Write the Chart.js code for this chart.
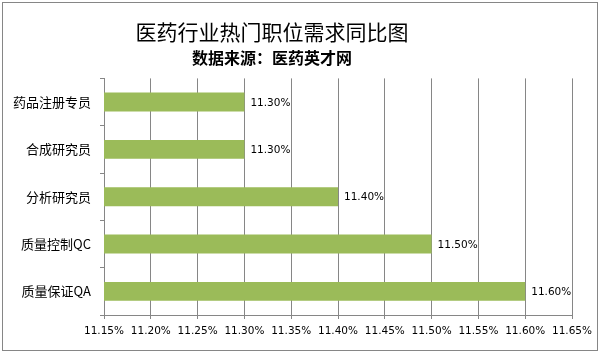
<!DOCTYPE html>
<html>
<head>
<meta charset="utf-8">
<script src="https://cdn.jsdelivr.net/npm/chart.js@4/dist/chart.umd.min.js"></script>
<style>
html,body{margin:0;padding:0;background:#fff;}
canvas{display:block;}
</style>
</head>
<body>
<canvas id="c" width="602" height="354"></canvas>
<script>
const categories = ['药品注册专员', '合成研究员', '分析研究员', '质量控制QC', '质量保证QA'];
const values = [11.30, 11.30, 11.40, 11.50, 11.60];
const xTickValues = [11.15, 11.20, 11.25, 11.30, 11.35, 11.40, 11.45, 11.50, 11.55, 11.60, 11.65];
const titleText = '医药行业热门职位需求同比图';
const subtitleText = '数据来源：医药英才网';

const GRAY = '#868686';
const CJK = '"Noto Sans CJK SC", "Noto Sans", sans-serif';
const NUMF = '"DejaVu Sans", Verdana, sans-serif';

const framePlugin = {
  id: 'frame',
  afterLayout(chart) {
    // centre the title and subtitle at x≈272 as in the reference
    chart.boxes.forEach(b => {
      if (b.position === 'top' && !b.axis) {
        b.left = 0;
        b.right = 544;
        b.width = 544;
      }
    });
  },
  beforeDraw(chart) {
    const ctx = chart.ctx;
    ctx.save();
    ctx.fillStyle = '#fff';
    ctx.fillRect(0, 0, chart.width, chart.height);
    ctx.strokeStyle = GRAY;
    ctx.lineWidth = 1;
    ctx.strokeRect(2.5, 2.5, 595, 348);
    ctx.restore();
  }
};

const labelPlugin = {
  id: 'barLabels',
  afterDatasetsDraw(chart) {
    const ctx = chart.ctx;
    const meta = chart.getDatasetMeta(0);
    ctx.save();
    ctx.font = '10.5px ' + NUMF;
    ctx.fillStyle = '#000';
    ctx.textAlign = 'left';
    ctx.textBaseline = 'middle';
    meta.data.forEach((bar, i) => {
      const v = chart.data.datasets[0].data[i];
      ctx.fillText(v.toFixed(2) + '%', bar.x + 6, bar.y + 1);
    });
    ctx.restore();
  }
};

new Chart(document.getElementById('c'), {
  type: 'bar',
  data: {
    labels: categories,
    datasets: [{
      data: values,
      backgroundColor: '#9BBB59',
      borderWidth: 0,
      categoryPercentage: 1.0,
      barPercentage: 0.4
    }]
  },
  options: {
    indexAxis: 'y',
    responsive: false,
    animation: false,
    devicePixelRatio: 1,
    layout: { padding: { left: 0, right: 30, top: 0, bottom: 0 } },
    plugins: {
      legend: { display: false },
      tooltip: { enabled: false },
      title: {
        display: true,
        text: titleText,
        color: '#000',
        font: { family: CJK, size: 21, weight: 'normal', lineHeight: 1.2 },
        padding: { top: 19, bottom: 0 }
      },
      subtitle: {
        display: true,
        text: subtitleText,
        color: '#000',
        font: { family: CJK, size: 16, weight: 'bold', lineHeight: 1.2 },
        padding: { top: 4, bottom: 11 }
      }
    },
    scales: {
      x: {
        type: 'linear',
        min: 11.15,
        max: 11.65,
        afterBuildTicks(scale) {
          scale.ticks = xTickValues.map(v => ({ value: v }));
        },
        afterFit(scale) { scale.height = 39; },
        ticks: {
          color: '#000',
          font: { family: NUMF, size: 10.5 },
          padding: 6,
          maxRotation: 0,
          autoSkip: false,
          callback: (v) => Number(v).toFixed(2) + '%'
        },
        grid: { color: GRAY, lineWidth: 1, tickLength: 4, drawOnChartArea: true },
        border: { color: GRAY, width: 1 }
      },
      y: {
        afterFit(scale) { scale.width = 104; },
        ticks: {
          color: '#000',
          font: { family: CJK, size: 13 },
          padding: 9
        },
        grid: { color: GRAY, lineWidth: 1, tickLength: 4, drawOnChartArea: false, offset: true },
        border: { color: GRAY, width: 1 }
      }
    }
  },
  plugins: [framePlugin, labelPlugin]
});
</script>
</body>
</html>
